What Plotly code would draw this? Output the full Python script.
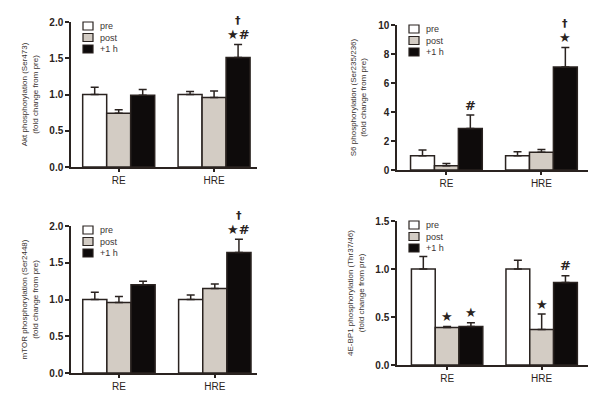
import plotly.graph_objects as go

# the page places the figure 8 px from the window's top-left corner
OFF = 8
W, H = 611 - OFF, 395 - OFF

groups = ["RE", "HRE"]
series = ["pre", "post", "+1 h"]
series_fill = ["#ffffff", "#d3ccc4", "#0e0b0b"]

# per series: [RE, HRE]
akt_mean = [[1.00, 1.00], [0.74, 0.96], [0.99, 1.51]]
akt_sem = [[0.10, 0.04], [0.05, 0.09], [0.08, 0.18]]

s6_mean = [[0.99, 0.99], [0.30, 1.22], [2.87, 7.10]]
s6_sem = [[0.39, 0.27], [0.15, 0.20], [0.92, 1.35]]

mtor_mean = [[1.00, 1.00], [0.96, 1.15], [1.20, 1.64]]
mtor_sem = [[0.10, 0.06], [0.08, 0.06], [0.05, 0.18]]

bp1_mean = [[1.00, 1.00], [0.39, 0.37], [0.40, 0.86]]
bp1_sem = [[0.13, 0.09], [0.01, 0.16], [0.04, 0.07]]

titles = [
    "Akt phosphorylation (Ser473)<br>(fold change from pre)",
    "S6 phosphorylation (Ser235/236)<br>(fold change from pre)",
    "mTOR phosphorylation (Ser2448)<br>(fold change from pre)",
    "4E-BP1 phosphorylation (Thr37/46)<br>(fold change from pre)",
]
y_ranges = [[0, 2.0], [0, 10], [0, 2.0], [0, 1.5]]
y_dticks = [0.5, 2, 0.5, 0.5]
y_formats = [".1f", "d", ".1f", ".1f"]

# significance marks: (group index, series index, [first line, second line])
akt_sig = [(1, 2, ["★#", "†"])]
s6_sig = [(0, 2, ["#"]), (1, 2, ["★", "†"])]
mtor_sig = [(1, 2, ["★#", "†"])]
bp1_sig = [(0, 1, ["★"]), (0, 2, ["★"]), (1, 1, ["★"]), (1, 2, ["#"])]

panels = [
    (akt_mean, akt_sem, akt_sig),
    (s6_mean, s6_sem, s6_sig),
    (mtor_mean, mtor_sem, mtor_sig),
    (bp1_mean, bp1_sem, bp1_sig),
]

# panel pixel boxes in window pixels: (left, right, top, bottom)
boxes = [(71, 257, 22, 167), (397, 588, 25, 170), (71, 257, 226, 373), (397, 588, 221, 365)]
x_ranges = [[-0.5, 1.45], [-0.52, 1.49], [-0.5, 1.44], [-0.53, 1.49]]

INK = "#2a2320"
FONT = "Liberation Sans, Arial, sans-serif"
BARGAP = 0.245
bw = (1 - BARGAP) / 3

fig = go.Figure()
layout = dict(
    width=W, height=H, margin=dict(l=0, r=0, t=0, b=0, autoexpand=False),
    plot_bgcolor="white", paper_bgcolor="white",
    barmode="group", bargap=BARGAP, bargroupgap=0,
    showlegend=False,
    font=dict(family=FONT, color=INK),
)
annotations = []
shapes = []

for p, (means, sems, sigs) in enumerate(panels):
    ax = "" if p == 0 else str(p + 1)
    xref, yref = "x" + ax, "y" + ax
    l, r, t, b = [v - OFF for v in boxes[p]]
    for k, name in enumerate(series):
        fig.add_trace(go.Bar(
            x=list(range(len(groups))), y=means[k], name=name,
            xaxis=xref, yaxis=yref,
            marker=dict(color=series_fill[k], line=dict(color=INK, width=1.5)),
            error_y=dict(type="data", array=sems[k], arrayminus=[0] * len(groups),
                         symmetric=False, color=INK, thickness=1.5, width=4),
            showlegend=False,
        ))
    layout["xaxis" + ax] = dict(
        domain=[l / W, r / W], anchor=yref, range=x_ranges[p], automargin=False,
        tickvals=list(range(len(groups))), ticktext=groups,
        showline=True, linecolor=INK, linewidth=1.5,
        ticks="outside", ticklen=3, tickwidth=1.5, tickcolor=INK,
        showgrid=False, zeroline=False,
        tickfont=dict(size=10, color=INK, family=FONT),
    )
    layout["yaxis" + ax] = dict(
        domain=[1 - b / H, 1 - t / H], anchor=xref, range=y_ranges[p], automargin=False,
        dtick=y_dticks[p], tickformat=y_formats[p],
        showline=True, linecolor=INK, linewidth=1.5,
        ticks="outside", ticklen=4, tickwidth=1.5, tickcolor=INK,
        showgrid=False, zeroline=False,
        tickfont=dict(size=10, color=INK, family=FONT, weight="bold"),
        title=dict(text=titles[p], standoff=10,
                   font=dict(size=8, color="#3a3330")),
    )
    # significance markers above error caps
    for (g, k, lines) in sigs:
        xpos = g + (k - 1) * bw
        ytop = means[k][g] + sems[k][g]
        for li, txt in enumerate(lines):
            annotations.append(dict(
                x=xpos, y=ytop, xref=xref, yref=yref, text=txt, showarrow=False,
                yanchor="middle", yshift=10 + 14 * li,
                font=dict(size=13 if li == 0 else 11, color=INK,
                          family="DejaVu Sans, Liberation Sans, sans-serif", weight="bold"),
            ))
    # legend (swatches + labels) in top-left corner of each panel
    pw, ph = r - l, b - t
    for k, name in enumerate(series):
        cy = 4 + 11.5 * k
        shapes.append(dict(
            type="rect", xref=xref + " domain", yref=yref + " domain",
            x0=12 / pw, x1=22 / pw, y0=1 - (cy + 4) / ph, y1=1 - (cy - 4) / ph,
            fillcolor=series_fill[k], line=dict(color=INK, width=1.2),
        ))
        annotations.append(dict(
            x=27 / pw, y=1 - cy / ph, xref=xref + " domain", yref=yref + " domain",
            text=name, showarrow=False, xanchor="left", yanchor="middle",
            font=dict(size=9, color="#3b3533"),
        ))

layout["annotations"] = annotations
layout["shapes"] = shapes
fig.update_layout(**layout)
fig.write_html("out.html")
